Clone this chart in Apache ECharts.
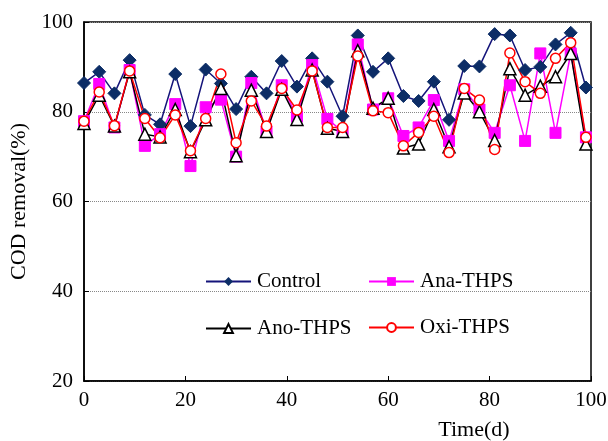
<!DOCTYPE html>
<html>
<head>
<meta charset="utf-8">
<script src="https://cdn.jsdelivr.net/npm/echarts@6/dist/echarts.min.js"></script>
<style>
  html, body { margin: 0; padding: 0; background: #fff; }
  #main { width: 608px; height: 441px; }
</style>
</head>
<body>
<div id="main"></div>
<script>
// sampling days (every 3 d)
var days = [0, 3, 6, 9, 12, 15, 18, 21, 24, 27, 30, 33, 36, 39, 42, 45, 48, 51,
  54, 57, 60, 63, 66, 69, 72, 75, 78, 81, 84, 87, 90, 93, 96, 99];

// COD removal (%)
var control = [86.4, 88.9, 84.1, 91.5, 79.3, 77.2, 88.4, 76.8, 89.4, 86.3, 80.6, 87.8,
  84.1, 91.3, 85.6, 91.9, 86.7, 79.0, 97.0, 88.9, 91.9, 83.5, 82.4, 86.7,
  78.2, 90.2, 90.1, 97.3, 97.0, 89.3, 90.0, 95.0, 97.6, 85.4];
var anaThps = [77.9, 86.2, 76.5, 89.3, 72.4, 75.0, 81.7, 67.9, 81.0, 82.7, 70.0, 86.4,
  75.6, 85.9, 78.9, 90.4, 78.4, 75.6, 95.0, 80.5, 83.0, 74.6, 76.5, 82.6,
  73.5, 85.0, 80.5, 75.3, 85.9, 73.5, 93.0, 75.3, 93.0, 74.3];
var anoThps = [77.4, 83.7, 76.8, 88.9, 75.0, 74.4, 80.5, 71.1, 78.2, 85.2, 70.2, 84.8,
  75.6, 85.0, 78.3, 89.3, 76.3, 75.6, 93.6, 80.8, 83.0, 71.9, 72.8, 80.5,
  72.2, 84.2, 80.0, 73.6, 89.6, 83.7, 85.7, 87.8, 93.0, 72.8];
var oxiThps = [77.9, 84.4, 76.9, 89.1, 78.5, 74.2, 79.3, 71.3, 78.5, 88.4, 73.1, 82.4,
  76.8, 85.2, 80.4, 89.1, 76.5, 76.5, 92.4, 80.2, 79.8, 72.4, 75.4, 79.0,
  70.9, 85.2, 82.6, 71.6, 93.1, 86.7, 84.1, 91.9, 95.4, 74.3];

var font = 'Liberation Serif';

function pairs(ys) {
  return days.map(function (d, i) { return [d, ys[i]]; });
}

function legendAt(name, left, top) {
  return {
    data: [name], left: left, top: top, padding: 0,
    itemWidth: 45, itemHeight: 11, itemGap: 0,
    textStyle: { fontFamily: font, fontSize: 21, color: '#000', padding: [0, 0, 0, 1] }
  };
}

var chart = echarts.init(document.getElementById('main'));
chart.setOption({
  animation: false,
  backgroundColor: '#fff',
  grid: { left: 84, right: 17, top: 22, bottom: 60, show: true,
    outerBoundsMode: 'none', containLabel: false,
    borderColor: '#000', borderWidth: 1.5, backgroundColor: 'transparent' },
  legend: [
    legendAt('Control', 205, 271),
    legendAt('Ana-THPS', 368, 271),
    legendAt('Ano-THPS', 205, 318),
    legendAt('Oxi-THPS', 368, 317)
  ],
  xAxis: {
    type: 'value', min: 0, max: 100, interval: 20,
    name: 'Time(d)', nameLocation: 'middle', nameGap: 38,
    nameTextStyle: { fontFamily: font, fontSize: 22, color: '#000', padding: [0, 0, 0, 273] },
    axisLine: { lineStyle: { color: '#000', width: 1.5 } },
    axisTick: { inside: true, length: 5, lineStyle: { color: '#000' } },
    axisLabel: { fontFamily: font, fontSize: 21, color: '#000', margin: 9 },
    splitLine: { show: false }
  },
  yAxis: {
    type: 'value', min: 20, max: 100, interval: 20,
    name: 'COD removal(%)', nameLocation: 'middle', nameGap: 51,
    nameTextStyle: { fontFamily: font, fontSize: 22, color: '#000' },
    axisLine: { lineStyle: { color: '#000', width: 1.5 } },
    axisTick: { inside: true, length: 5, lineStyle: { color: '#000' } },
    axisLabel: { fontFamily: font, fontSize: 21, color: '#000', margin: 11 },
    splitLine: { lineStyle: { color: '#888', type: 'dotted', width: 1 } }
  },
  series: [
    {
      name: 'Control', type: 'line', data: pairs(control),
      symbol: 'diamond', symbolSize: 13,
      lineStyle: { color: '#14147a', width: 1.5 },
      itemStyle: { color: '#0c2d66', borderColor: '#0c2d66' }
    },
    {
      name: 'Ana-THPS', type: 'line', data: pairs(anaThps),
      symbol: 'rect', symbolSize: 11,
      lineStyle: { color: '#ff00ff', width: 1.5 },
      itemStyle: { color: '#ff00ff', borderColor: '#ff00ff' }
    },
    {
      name: 'Ano-THPS', type: 'line', data: pairs(anoThps),
      symbol: 'triangle', symbolSize: 12,
      lineStyle: { color: '#000', width: 1.5 },
      itemStyle: { color: '#fff', borderColor: '#000', borderWidth: 1.5 }
    },
    {
      name: 'Oxi-THPS', type: 'line', data: pairs(oxiThps),
      symbol: 'circle', symbolSize: 10,
      lineStyle: { color: '#ff0000', width: 1.5 },
      itemStyle: { color: '#fff', borderColor: '#ff0000', borderWidth: 1.5 }
    }
  ]
});
</script>
</body>
</html>
